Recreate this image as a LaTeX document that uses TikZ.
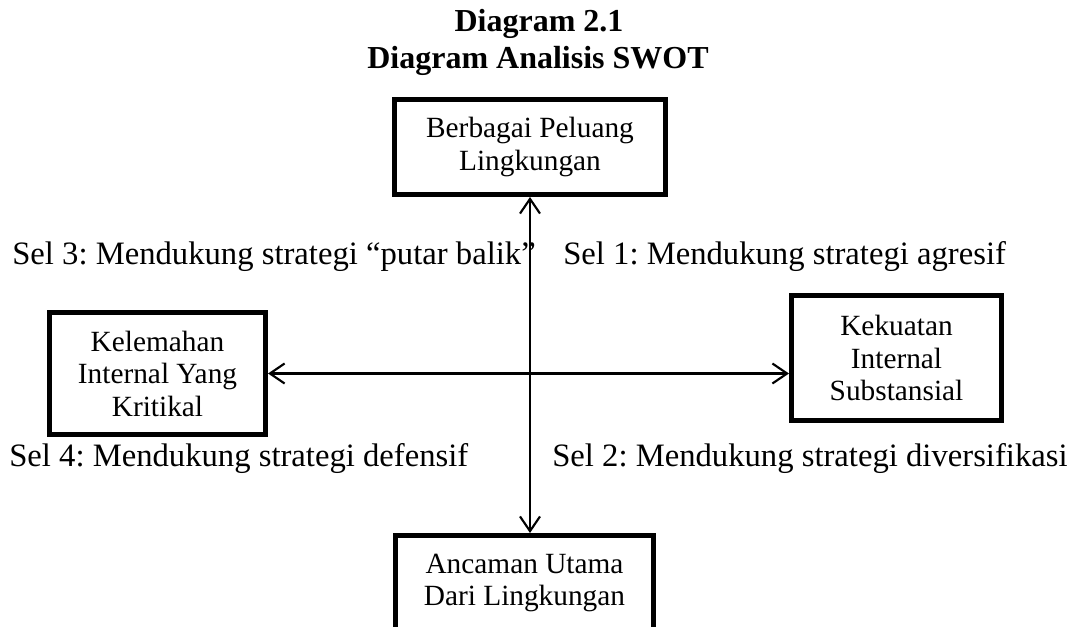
\documentclass[tikz,border=0pt]{standalone}
\usepackage{fontspec}
\setmainfont{Liberation Serif}
\usetikzlibrary{
  arrows.meta,
  positioning
}

\begin{document}
\frenchspacing
\begin{tikzpicture}[x=0.75pt, y=-0.75pt,
  box/.style={rectangle, draw=black, line width=3.8pt, fill=white,
              font=\fontsize{22}{24.4}\selectfont, align=center},
  sel/.style={font=\fontsize{24.5}{27}\selectfont, inner sep=0pt, anchor=base west},
  judul/.style={font=\bfseries\fontsize{24}{27.75}\selectfont, inner sep=0pt, anchor=base},
  arrow/.style={{Straight Barb[length=11pt, width=15pt]}-{Straight Barb[length=11pt, width=15pt]},
                line width=1.6pt, color=#1}
]
  \useasboundingbox (0,0) rectangle (1069,627);

  % Title
  \node[judul] (J1) at (539, 32) {Diagram 2.1};
  \node[judul] (J2) at (538, 69) {Diagram Analisis SWOT};

  % Four boxes
  \node[box, minimum width=203.2pt, minimum height=71.2pt] (O) at (530, 147)
    {Berbagai Peluang\\Lingkungan};
  \node[box, minimum width=162pt, minimum height=91.5pt] (W) at (157.5, 373.5)
    {Kelemahan\\Internal Yang\\Kritikal};
  \node[box, minimum width=157.5pt, minimum height=93.7pt] (S) at (896.5, 358)
    {Kekuatan\\Internal\\Substansial};
  \node[box, minimum width=193.5pt, minimum height=71.2pt] (T) at (524.5, 583)
    {Ancaman Utama\\Dari Lingkungan};

  % Arrows
  \draw[arrow=black] (O.south) -- (O.south |- T.north);
  \draw[arrow=black] (W.east) -- (W.east -| S.west);

  % Cell labels
  \node[sel] (C3) at (12, 264) {Sel 3: Mendukung strategi “putar balik”};
  \node[sel] (C1) at (563, 264) {Sel 1: Mendukung strategi agresif};
  \node[sel] (C4) at (9, 466) {Sel 4: Mendukung strategi defensif};
  \node[sel] (C2) at (552, 466) {Sel 2: Mendukung strategi diversifikasi};
\end{tikzpicture}
\end{document}
